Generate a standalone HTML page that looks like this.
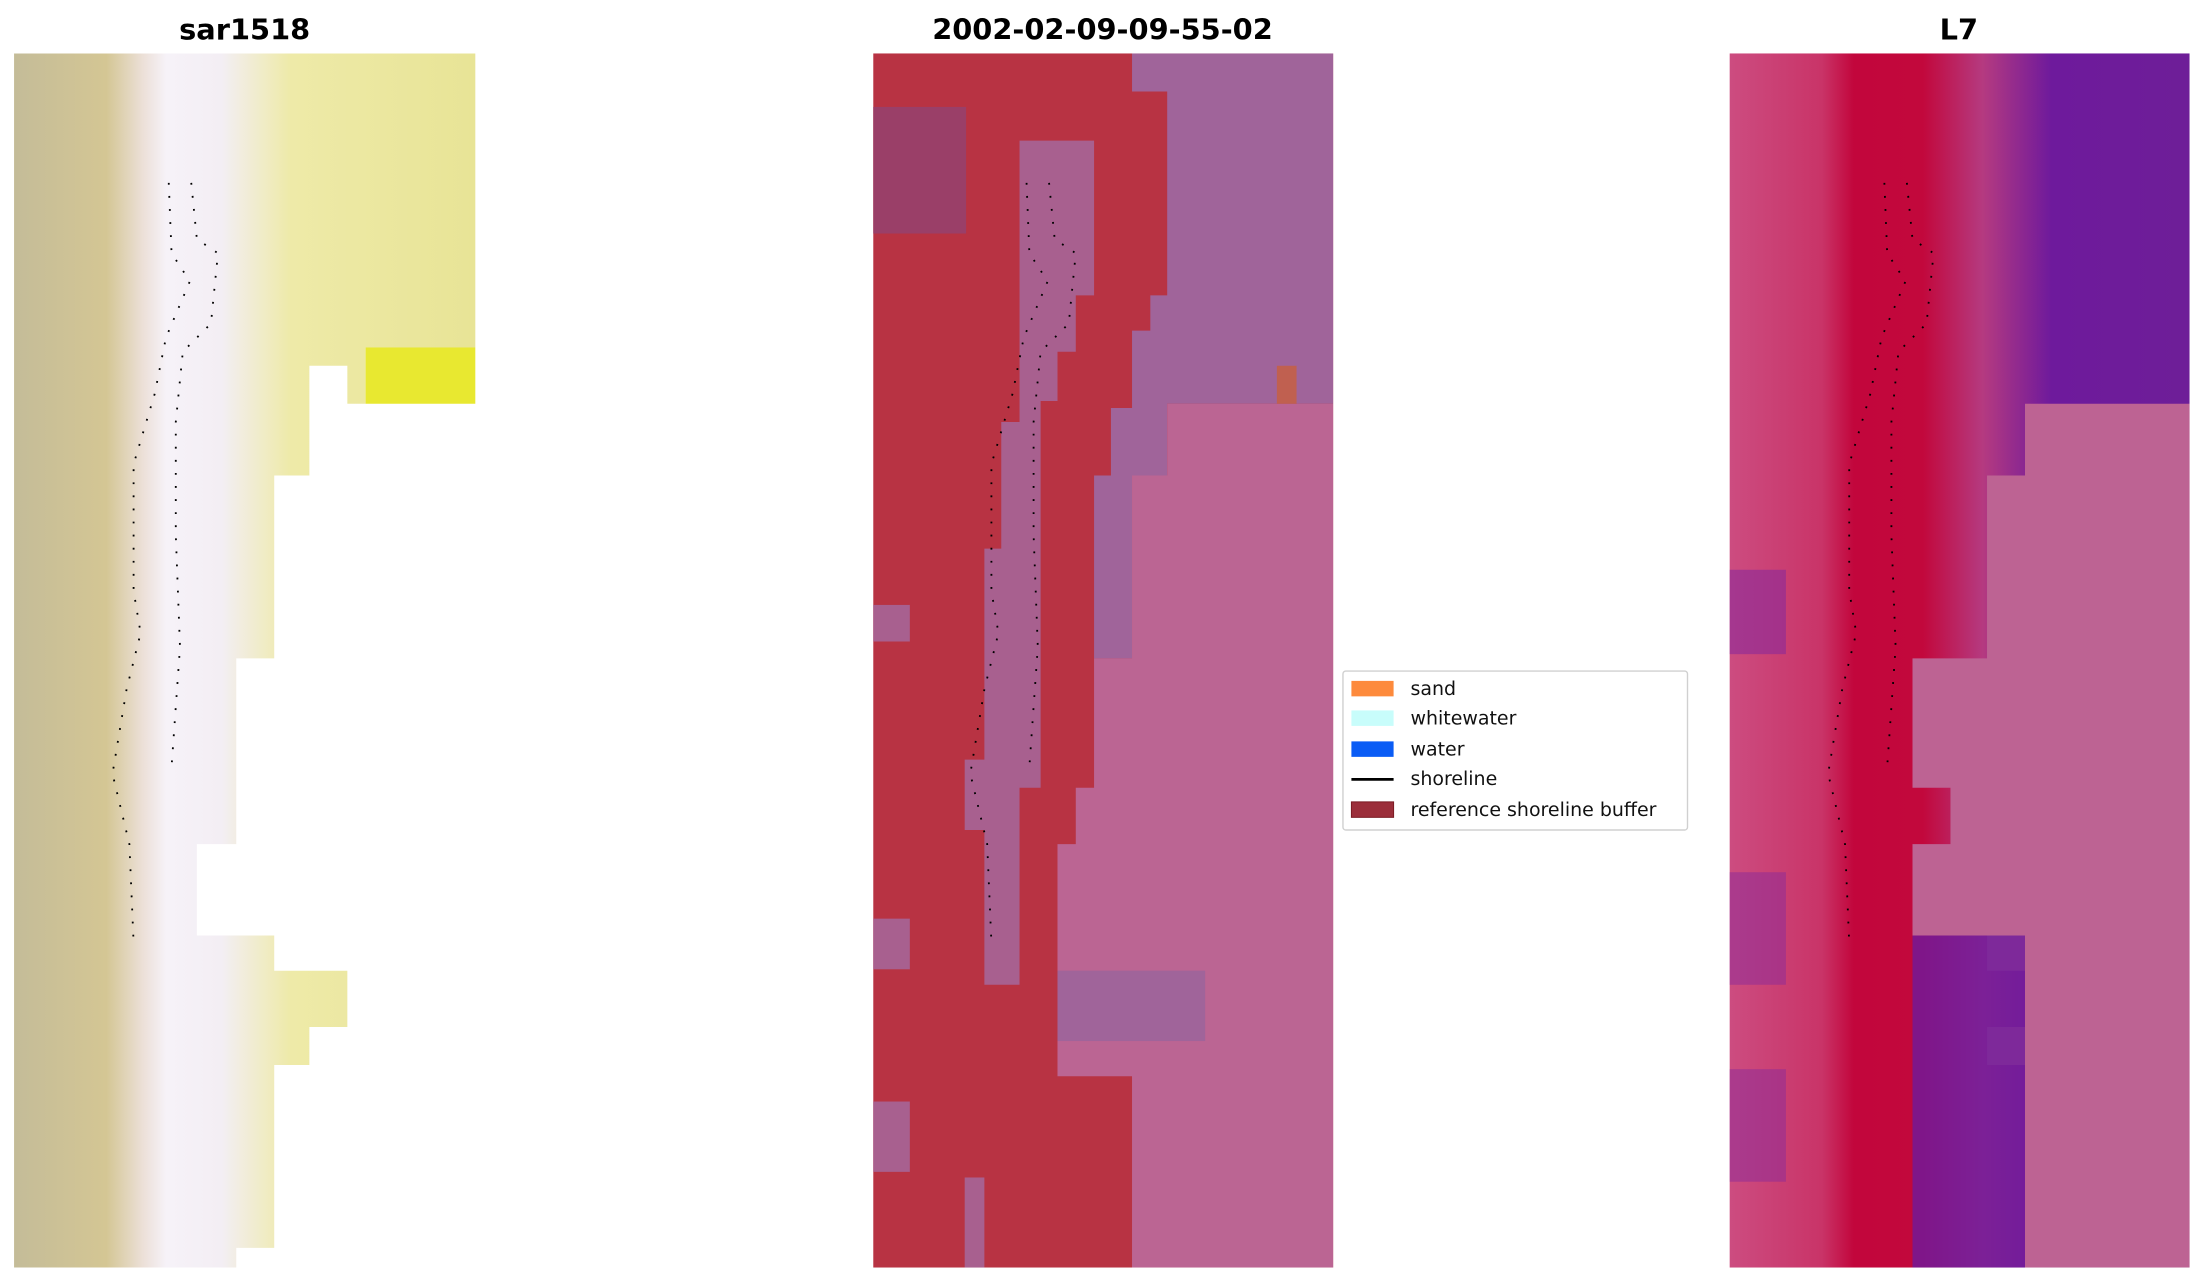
<!DOCTYPE html><html><head><style>body{margin:0;background:#fff}svg{display:block}</style></head><body>
<svg width="2205" height="1283" viewBox="0 0 1568 912" preserveAspectRatio="none" xmlns="http://www.w3.org/2000/svg" font-family="DejaVu Sans, Liberation Sans, sans-serif">
<defs>
<linearGradient id="g1" x1="0" x2="1"><stop offset="0" stop-color="#c4bc98"/><stop offset="0.2" stop-color="#d4c694"/><stop offset="0.28" stop-color="#ece0d8"/><stop offset="0.33" stop-color="#f6f2f8"/><stop offset="0.45" stop-color="#f3eef4"/><stop offset="0.6" stop-color="#eeeaa8"/><stop offset="1" stop-color="#e8e496"/></linearGradient>
<linearGradient id="g3" x1="0" x2="1"><stop offset="0" stop-color="#cc4c80"/><stop offset="0.2" stop-color="#c93468"/><stop offset="0.27" stop-color="#c2063c"/><stop offset="0.42" stop-color="#c2083c"/><stop offset="0.55" stop-color="#b53a80"/><stop offset="0.7" stop-color="#6e1a9c"/><stop offset="1" stop-color="#6e1e98"/></linearGradient>
</defs>
<g font-weight="bold" font-size="20.5" text-anchor="middle"><text x="174" y="28">sar1518</text><text x="784" y="28">2002-02-09-09-55-02</text><text x="1393" y="28">L7</text></g>
<polygon fill="url(#g1)" points="10,38 338,38 338,247 260,247 260,287 247,287 247,260 220,260 220,338 195,338 195,468 168,468 168,600 140,600 140,665 195,665 195,690 247,690 247,730 220,730 220,757 195,757 195,887 168,887 168,901 10,901"/>
<rect x="260" y="247" width="78" height="40" fill="#e8e830"/>
<rect x="621" y="38" width="327" height="863" fill="#b83343"/>
<polygon fill="#a0649a" points="830,38 948,38 948,287 830,287 830,338 805,338 805,468 778,468 778,338 790,338 790,290 805,290 805,235 818,235 818,210 830,210 830,65 805,65 805,38"/>
<polygon fill="#bb6593" points="830,287 948,287 948,901 805,901 805,765 752,765 752,600 765,600 765,560 778,560 778,468 805,468 805,338 830,338"/>
<polygon fill="#a8608f" points="725,100 778,100 778,210 765,210 765,250 752,250 752,285 740,285 740,560 725,560 725,700 700,700 700,590 686,590 686,540 700,540 700,390 712,390 712,300 725,300"/>
<rect x="621" y="76" width="66" height="90" fill="#9a3f68"/>
<rect x="752" y="690" width="105" height="50" fill="#a0649a"/>
<rect x="686" y="837" width="14" height="64" fill="#a8608f"/>
<rect x="621" y="430" width="26" height="26" fill="#a8608f"/>
<rect x="621" y="653" width="26" height="36" fill="#a8608f"/>
<rect x="621" y="783" width="26" height="50" fill="#a8608f"/>
<rect x="908" y="260" width="14" height="27" fill="#c06050"/>
<rect x="1230" y="38" width="327" height="863" fill="url(#g3)"/>
<polygon fill="#bd6393" points="1440,287 1557,287 1557,901 1440,901 1440,757 1413,757 1413,730 1440,730 1440,690 1413,690 1413,665 1360,665 1360,600 1387,600 1387,560 1360,560 1360,468 1413,468 1413,338 1440,338"/>
<rect x="1360" y="665" width="80" height="236" fill="#6e1a9c" opacity="0.8"/>
<rect x="1230" y="405" width="40" height="60" fill="#8a2a9a" opacity="0.6"/>
<rect x="1230" y="620" width="40" height="80" fill="#8a2a9a" opacity="0.5"/>
<rect x="1230" y="760" width="40" height="80" fill="#8a2a9a" opacity="0.5"/>
<g fill="none" stroke="#000" stroke-width="1.3" stroke-dasharray="1.3 8">
<path d="M120,130 L122,180 L135,200 L118,240 L110,280 L95,330 L95,420 L100,450 L90,490 L80,550 L92,600 L95,670"/>
<path d="M136,130 L140,170 L155,180 L150,230 L130,250 L125,300 L125,380 L128,460 L122,545"/>
<g transform="translate(610,0)"><path d="M120,130 L122,180 L135,200 L118,240 L110,280 L95,330 L95,420 L100,450 L90,490 L80,550 L92,600 L95,670"/><path d="M136,130 L140,170 L155,180 L150,230 L130,250 L125,300 L125,380 L128,460 L122,545"/></g>
<g transform="translate(1220,0)"><path d="M120,130 L122,180 L135,200 L118,240 L110,280 L95,330 L95,420 L100,450 L90,490 L80,550 L92,600 L95,670"/><path d="M136,130 L140,170 L155,180 L150,230 L130,250 L125,300 L125,380 L128,460 L122,545"/></g>
</g>
<rect x="955" y="477" width="245" height="113" rx="2" fill="#fff" stroke="#d0d0d0" stroke-width="1"/>
<g font-size="13.5" fill="#111">
<rect x="961" y="484" width="30" height="11" fill="#fd8a3c"/><text x="1003" y="494">sand</text>
<rect x="961" y="505" width="30" height="11" fill="#c8fdfb"/><text x="1003" y="515">whitewater</text>
<rect x="961" y="527" width="30" height="11" fill="#0a5cf5"/><text x="1003" y="537">water</text>
<line x1="961" y1="554" x2="991" y2="554" stroke="#000" stroke-width="2"/><text x="1003" y="558">shoreline</text>
<rect x="961" y="570" width="30" height="11" fill="#9b2e3a" stroke="#7a1a22" stroke-width="0.7"/><text x="1003" y="580">reference shoreline buffer</text>
</g>
</svg></body></html>
